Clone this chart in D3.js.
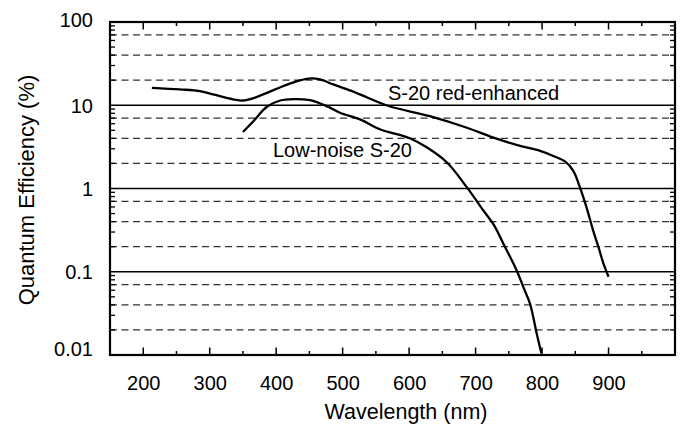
<!DOCTYPE html>
<html>
<head>
<meta charset="utf-8">
<script src="https://cdn.jsdelivr.net/npm/d3@7"></script>
<style>
  html, body { margin: 0; padding: 0; background: #fff; }
  svg { display: block; }
  text { font-family: "Liberation Sans", Arial, Helvetica, sans-serif; fill: #000; }
</style>
</head>
<body>
<svg id="chart" width="686" height="427"></svg>
<script>
// ---- data ----
const redWavelength = [213, 255, 285, 305, 335, 350, 365, 386, 410, 436, 453, 466, 486, 511, 526, 569, 631, 687, 727, 767, 797, 817, 835, 847, 857, 867, 877, 885, 892, 900];
const redQE        = [16.2, 15.5, 14.8, 13.5, 11.8, 11.4, 12.1, 14.1, 16.9, 19.9, 21.0, 20.4, 17.8, 15.1, 13.5, 9.8, 7.4, 5.37, 4.08, 3.25, 2.83, 2.46, 2.10, 1.63, 1.03, 0.59, 0.31, 0.196, 0.128, 0.087];
const lowWavelength = [350, 366, 386, 406, 426, 451, 476, 496, 526, 556, 601, 627, 657, 687, 712, 727, 742, 762, 772, 782, 792, 799];
const lowQE         = [4.77, 6.46, 9.58, 11.4, 11.86, 11.5, 9.77, 8.13, 6.77, 5.15, 4.01, 3.1, 2.05, 1.03, 0.54, 0.37, 0.216, 0.103, 0.065, 0.041, 0.018, 0.0105];
const seriesLabels = ["S-20 red-enhanced", "Low-noise S-20"];
const xTickLabels = [200, 300, 400, 500, 600, 700, 800, 900];
const yTickLabels = [0.01, 0.1, 1, 10, 100];
const solidGridValues = [0.1, 1, 10];
const dashedGridValues = [0.02, 0.04, 0.07, 0.2, 0.4, 0.7, 2, 4, 7, 20, 40, 70];
const xTitle = "Wavelength (nm)";
const yTitle = "Quantum Efficiency (%)";

(function () {
// ---- layout ----
const pLeft = 110, pRight = 675, pTop = 22, pBottom = 355;
const svg = d3.select("#chart");
const x = d3.scaleLinear().domain([150, 1000]).range([pLeft, pRight]);
const y = d3.scaleLog().domain([0.01, 100]).range([pBottom, pTop]);

// grid
svg.append("g").selectAll("line").data(dashedGridValues).join("line")
  .attr("x1", pLeft).attr("x2", pRight)
  .attr("y1", d => y(d)).attr("y2", d => y(d))
  .attr("stroke", "#333").attr("stroke-width", 1.3).attr("stroke-dasharray", "7,4.5");
svg.append("g").selectAll("line").data(solidGridValues).join("line")
  .attr("x1", pLeft).attr("x2", pRight)
  .attr("y1", d => y(d)).attr("y2", d => y(d))
  .attr("stroke", "#000").attr("stroke-width", 1.5);

// minor y ticks (log)
const yMinor = [];
for (let e = -2; e < 2; e++) for (let m = 2; m <= 9; m++) yMinor.push(m * Math.pow(10, e));

const axisG = svg.append("g");
axisG.append("g").selectAll("line").data(yMinor).join("line")
  .attr("x1", pLeft).attr("x2", pLeft + 5)
  .attr("y1", d => y(d)).attr("y2", d => y(d))
  .attr("stroke", "#000").attr("stroke-width", 1.3);
axisG.append("g").selectAll("line").data(yMinor).join("line")
  .attr("x1", pRight).attr("x2", pRight - 5)
  .attr("y1", d => y(d)).attr("y2", d => y(d))
  .attr("stroke", "#000").attr("stroke-width", 1.3);

// x ticks top & bottom
const xMajor = d3.range(200, 1001, 100);
const xMinor = d3.range(250, 1000, 100);
[[pBottom, -1], [pTop, 1]].forEach(([yy, dir]) => {
  axisG.append("g").selectAll("line").data(xMajor).join("line")
    .attr("x1", d => x(d)).attr("x2", d => x(d))
    .attr("y1", yy).attr("y2", yy + dir * 7.5)
    .attr("stroke", "#000").attr("stroke-width", 1.5);
  axisG.append("g").selectAll("line").data(xMinor).join("line")
    .attr("x1", d => x(d)).attr("x2", d => x(d))
    .attr("y1", yy).attr("y2", yy + dir * 4)
    .attr("stroke", "#000").attr("stroke-width", 1.5);
});

// frame
axisG.append("rect")
  .attr("x", pLeft).attr("y", pTop)
  .attr("width", pRight - pLeft).attr("height", pBottom - pTop)
  .attr("fill", "none").attr("stroke", "#000").attr("stroke-width", 2.2);

// x labels via d3 axis (labels only)
const xAxis = d3.axisBottom(x).tickValues(xTickLabels).tickSize(0).tickPadding(0).tickFormat(d3.format("d"));
const xg = svg.append("g").attr("transform", `translate(0,${pBottom})`).call(xAxis);
xg.select(".domain").remove();
xg.selectAll("text").attr("dy", null).attr("y", 35)
  .style("font-family", '"Liberation Sans", Arial, sans-serif').style("font-size", "20px").attr("fill", "#000");

// y labels
const yAxis = d3.axisLeft(y).tickValues(yTickLabels).tickSize(0).tickPadding(0).tickFormat(d => String(d));
const yg = svg.append("g").attr("transform", `translate(${pLeft},0)`).call(yAxis);
yg.select(".domain").remove();
yg.selectAll("text").attr("x", -17)
  .attr("dy", d => d === 100 ? "0.2em" : d === 0.01 ? "0.0em" : "0.35em")
  .style("font-family", '"Liberation Sans", Arial, sans-serif').style("font-size", "20px").attr("fill", "#000");

// curves
const line = d3.line().x(d => x(d[0])).y(d => y(d[1])).curve(d3.curveCatmullRom.alpha(0.5));
const redPts = redWavelength.map((w, i) => [w, redQE[i]]);
const lowPts = lowWavelength.map((w, i) => [w, lowQE[i]]);
svg.append("path").datum(redPts).attr("d", line)
  .attr("fill", "none").attr("stroke", "#000").attr("stroke-width", 2.3).attr("stroke-linejoin", "round");
svg.append("path").datum(lowPts).attr("d", line)
  .attr("fill", "none").attr("stroke", "#000").attr("stroke-width", 2.3).attr("stroke-linejoin", "round");

// curve labels
svg.append("text").attr("x", 388).attr("y", 100).style("font-size", "20px").text(seriesLabels[0]);
svg.append("text").attr("x", 273).attr("y", 157).style("font-size", "20px").text(seriesLabels[1]);

// titles
svg.append("text").attr("x", 406).attr("y", 419).attr("text-anchor", "middle")
  .style("font-size", "21.5px").text(xTitle);
svg.append("text").attr("transform", "translate(33.5,190) rotate(-90)").attr("text-anchor", "middle")
  .style("font-size", "22px").text(yTitle);
})();
</script>
</body>
</html>
